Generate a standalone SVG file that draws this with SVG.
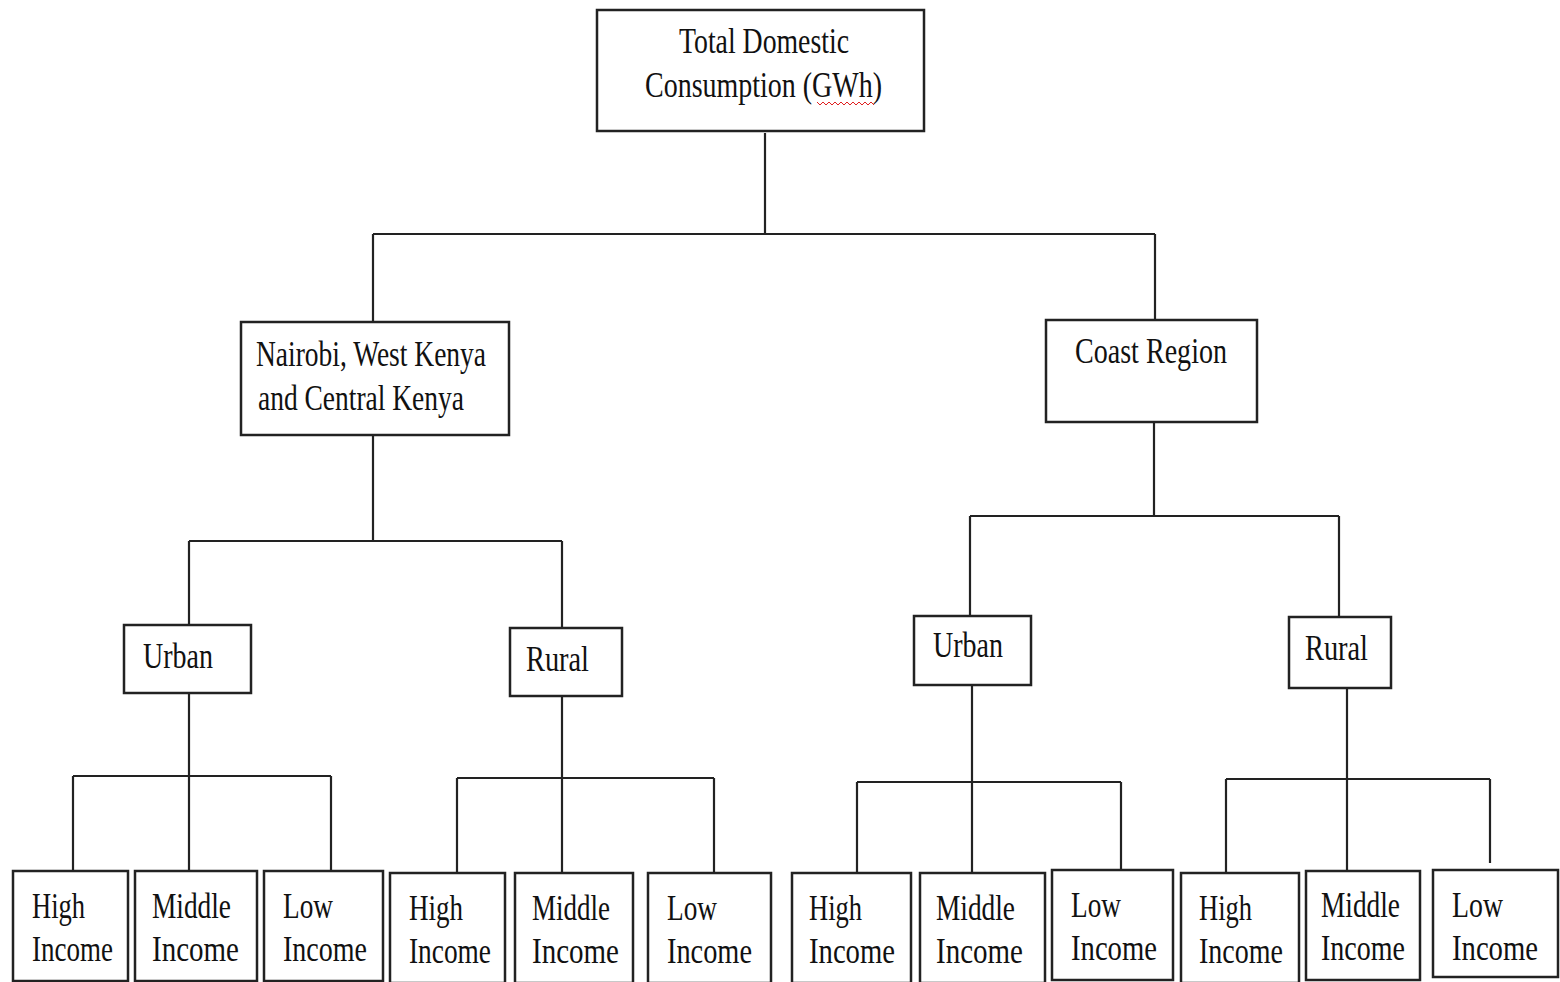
<svg xmlns="http://www.w3.org/2000/svg" width="1560" height="982" viewBox="0 0 1560 982">
<style>
.box{fill:#fff;stroke:#222;stroke-width:2.5}
.t{font-family:"Liberation Serif","Times New Roman",serif;font-size:36px;fill:#111}
.c{fill:none;stroke:#222;stroke-width:2.2}
</style>
<rect width="1560" height="982" fill="#fff"/>
<g id="connectors" class="c">
<path d="M765 133V234M373 234H1155M373 234V322M1155 234V320"/>
<path d="M373 435V541M189 541H562M189 541V625M562 541V628"/>
<path d="M1154 422V516M970 516H1339M970 516V616M1339 516V617"/>
<path d="M189 693V776M73 776H331M73 776V871M189 776V871M331 776V871"/>
<path d="M562 696V778M457 778H714M457 778V873M562 778V873M714 778V873"/>
<path d="M972 685V782M857 782H1121M857 782V873M972 782V873M1121 782V870"/>
<path d="M1347 683V779M1226 779H1490M1226 779V873M1347 779V871M1490 779V863"/>
</g>
<g id="n-total">
<rect class="box" x="597" y="10" width="327" height="121"/>
<text class="t" x="679" y="53" textLength="170" lengthAdjust="spacingAndGlyphs">Total Domestic</text>
<text class="t" x="645" y="97" textLength="237" lengthAdjust="spacingAndGlyphs">Consumption (GWh)</text>
<polyline points="817,102 820,105 823,102 826,105 829,102 832,105 835,102 838,105 841,102 844,105 847,102 850,105 853,102 856,105 859,102 862,105 865,102 868,105 871,102 874,105" fill="none" stroke="#e02020" stroke-width="1"/>
</g>
<g id="n-nairobi">
<rect class="box" x="241" y="322" width="268" height="113"/>
<text class="t" x="256" y="366" textLength="230" lengthAdjust="spacingAndGlyphs">Nairobi, West Kenya</text>
<text class="t" x="258" y="410" textLength="206" lengthAdjust="spacingAndGlyphs">and Central Kenya</text>
</g>
<g id="n-coast">
<rect class="box" x="1046" y="320" width="211" height="102"/>
<text class="t" x="1075" y="363" textLength="152" lengthAdjust="spacingAndGlyphs">Coast Region</text>
</g>
<g id="n-urban-l">
<rect class="box" x="124" y="625" width="127" height="68"/>
<text class="t" x="143" y="668" textLength="70" lengthAdjust="spacingAndGlyphs">Urban</text>
</g>
<g id="n-rural-l">
<rect class="box" x="510" y="628" width="112" height="68"/>
<text class="t" x="526" y="671" textLength="63" lengthAdjust="spacingAndGlyphs">Rural</text>
</g>
<g id="n-urban-r">
<rect class="box" x="914" y="616" width="117" height="69"/>
<text class="t" x="933" y="657" textLength="70" lengthAdjust="spacingAndGlyphs">Urban</text>
</g>
<g id="n-rural-r">
<rect class="box" x="1289" y="617" width="102" height="71"/>
<text class="t" x="1305" y="660" textLength="63" lengthAdjust="spacingAndGlyphs">Rural</text>
</g>
<g id="n-l-urban-high">
<rect class="box" x="13" y="871" width="115" height="110"/>
<text class="t" x="32" y="918" textLength="53" lengthAdjust="spacingAndGlyphs">High</text>
<text class="t" x="32" y="961" textLength="81" lengthAdjust="spacingAndGlyphs">Income</text>
</g>
<g id="n-l-urban-middle">
<rect class="box" x="135" y="871" width="122" height="110"/>
<text class="t" x="152" y="918" textLength="79" lengthAdjust="spacingAndGlyphs">Middle</text>
<text class="t" x="152" y="961" textLength="87" lengthAdjust="spacingAndGlyphs">Income</text>
</g>
<g id="n-l-urban-low">
<rect class="box" x="264" y="871" width="119" height="110"/>
<text class="t" x="283" y="918" textLength="50" lengthAdjust="spacingAndGlyphs">Low</text>
<text class="t" x="283" y="961" textLength="84" lengthAdjust="spacingAndGlyphs">Income</text>
</g>
<g id="n-l-rural-high">
<rect class="box" x="390" y="873" width="115" height="110"/>
<text class="t" x="409" y="920" textLength="54" lengthAdjust="spacingAndGlyphs">High</text>
<text class="t" x="409" y="963" textLength="82" lengthAdjust="spacingAndGlyphs">Income</text>
</g>
<g id="n-l-rural-middle">
<rect class="box" x="515" y="873" width="118" height="110"/>
<text class="t" x="532" y="920" textLength="78" lengthAdjust="spacingAndGlyphs">Middle</text>
<text class="t" x="532" y="963" textLength="87" lengthAdjust="spacingAndGlyphs">Income</text>
</g>
<g id="n-l-rural-low">
<rect class="box" x="648" y="873" width="123" height="110"/>
<text class="t" x="667" y="920" textLength="50" lengthAdjust="spacingAndGlyphs">Low</text>
<text class="t" x="667" y="963" textLength="85" lengthAdjust="spacingAndGlyphs">Income</text>
</g>
<g id="n-r-urban-high">
<rect class="box" x="792" y="873" width="119" height="110"/>
<text class="t" x="809" y="920" textLength="53" lengthAdjust="spacingAndGlyphs">High</text>
<text class="t" x="809" y="963" textLength="86" lengthAdjust="spacingAndGlyphs">Income</text>
</g>
<g id="n-r-urban-middle">
<rect class="box" x="920" y="873" width="125" height="110"/>
<text class="t" x="936" y="920" textLength="79" lengthAdjust="spacingAndGlyphs">Middle</text>
<text class="t" x="936" y="963" textLength="87" lengthAdjust="spacingAndGlyphs">Income</text>
</g>
<g id="n-r-urban-low">
<rect class="box" x="1052" y="870" width="121" height="110"/>
<text class="t" x="1071" y="917" textLength="50" lengthAdjust="spacingAndGlyphs">Low</text>
<text class="t" x="1071" y="960" textLength="86" lengthAdjust="spacingAndGlyphs">Income</text>
</g>
<g id="n-r-rural-high">
<rect class="box" x="1181" y="873" width="118" height="110"/>
<text class="t" x="1199" y="920" textLength="53" lengthAdjust="spacingAndGlyphs">High</text>
<text class="t" x="1199" y="963" textLength="84" lengthAdjust="spacingAndGlyphs">Income</text>
</g>
<g id="n-r-rural-middle">
<rect class="box" x="1306" y="871" width="114" height="109"/>
<text class="t" x="1321" y="917" textLength="79" lengthAdjust="spacingAndGlyphs">Middle</text>
<text class="t" x="1321" y="960" textLength="84" lengthAdjust="spacingAndGlyphs">Income</text>
</g>
<g id="n-r-rural-low">
<rect class="box" x="1433" y="870" width="125" height="107"/>
<text class="t" x="1452" y="917" textLength="51" lengthAdjust="spacingAndGlyphs">Low</text>
<text class="t" x="1452" y="960" textLength="86" lengthAdjust="spacingAndGlyphs">Income</text>
</g>
</svg>
